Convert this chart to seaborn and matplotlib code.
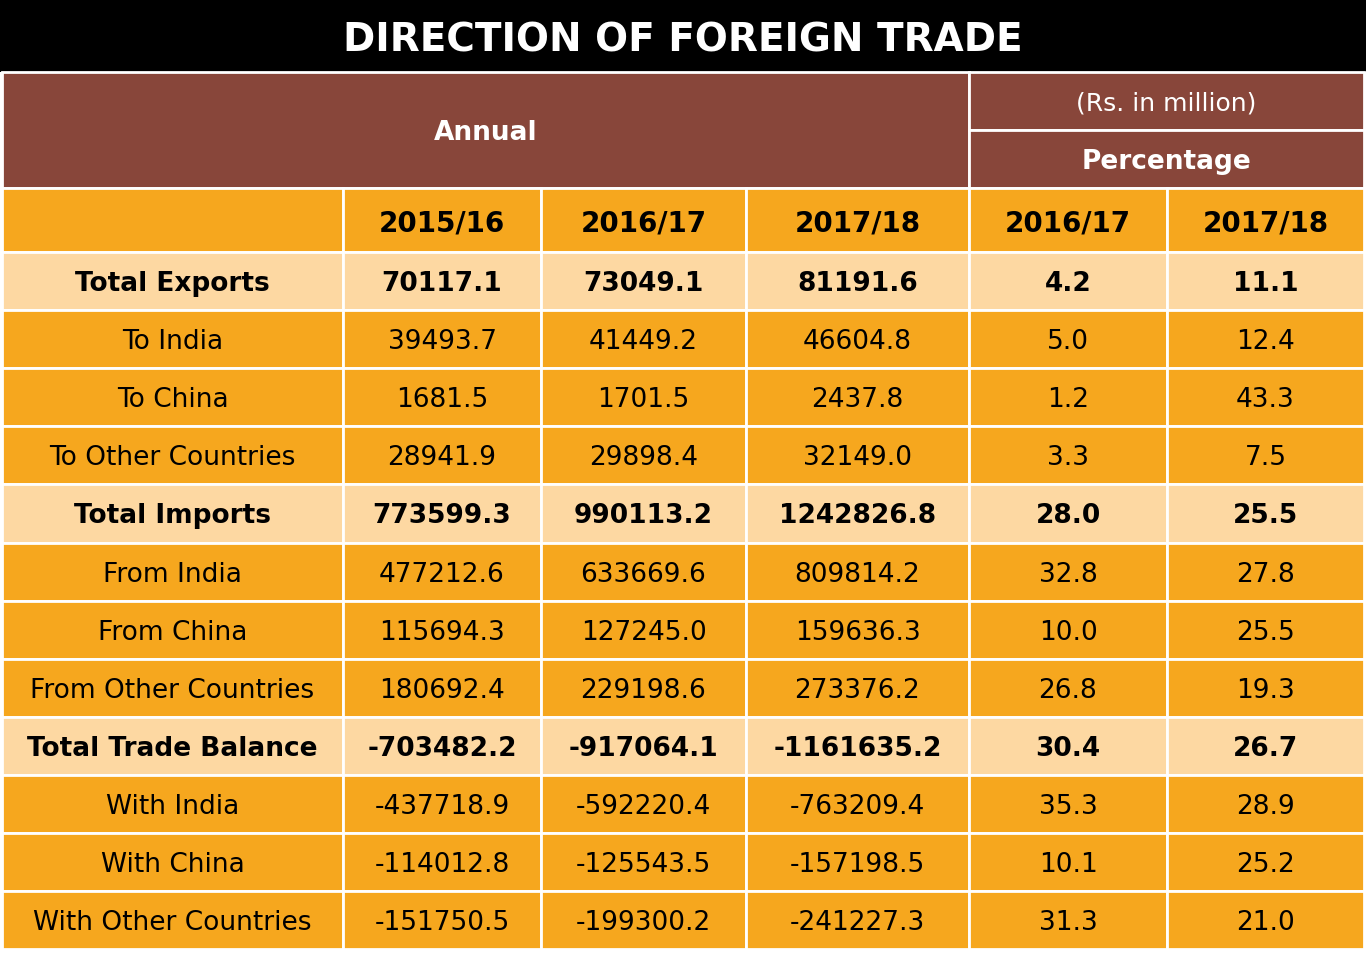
import matplotlib
matplotlib.use("Agg")
import matplotlib.pyplot as plt
from matplotlib.patches import Rectangle
import seaborn as sns

sns.set_theme(style="white")

title = "DIRECTION OF FOREIGN TRADE"
years_annual = ["2015/16", "2016/17", "2017/18"]
years_pct = ["2016/17", "2017/18"]
row_labels = ["Total Exports", "To India", "To China", "To Other Countries",
              "Total Imports", "From India", "From China", "From Other Countries",
              "Total Trade Balance", "With India", "With China", "With Other Countries"]
v2015 = ["70117.1", "39493.7", "1681.5", "28941.9", "773599.3", "477212.6", "115694.3", "180692.4",
         "-703482.2", "-437718.9", "-114012.8", "-151750.5"]
v2016 = ["73049.1", "41449.2", "1701.5", "29898.4", "990113.2", "633669.6", "127245.0", "229198.6",
         "-917064.1", "-592220.4", "-125543.5", "-199300.2"]
v2017 = ["81191.6", "46604.8", "2437.8", "32149.0", "1242826.8", "809814.2", "159636.3", "273376.2",
         "-1161635.2", "-763209.4", "-157198.5", "-241227.3"]
p2016 = ["4.2", "5.0", "1.2", "3.3", "28.0", "32.8", "10.0", "26.8", "30.4", "35.3", "10.1", "31.3"]
p2017 = ["11.1", "12.4", "43.3", "7.5", "25.5", "27.8", "25.5", "19.3", "26.7", "28.9", "25.2", "21.0"]
bold_rows = [0, 4, 8]

ORANGE = "#F6A71E"
PEACH = "#FDD8A2"
BROWN = "#88463A"
FONT = ["DejaVu Sans"]

fig = plt.figure(figsize=(13.66, 9.54), dpi=100)
ax = fig.add_axes([0, 0, 1, 1])
ax.set_xlim(0, 1366)
ax.set_ylim(954, 0)
ax.axis("off")

xs = [2, 343, 541, 746, 969, 1167, 1364]
lw = 2

def cell(x0, y0, x1, y1, color, text="", bold=False, size=19, tcolor="black"):
    ax.add_patch(Rectangle((x0, y0), x1 - x0, y1 - y0, facecolor=color, edgecolor="white", lw=lw))
    if text:
        ax.text((x0 + x1) / 2, (y0 + y1) / 2 + 2, text, ha="center", va="center",
                fontsize=size, fontweight="bold" if bold else "normal",
                family=FONT, color=tcolor)

ax.add_patch(Rectangle((0, 0), 1366, 73, facecolor="black", edgecolor="none"))
ax.text(683, 40, title, ha="center", va="center", fontsize=28, fontweight="bold",
        family=FONT, color="white")
cell(xs[0], 73, xs[4], 189, BROWN, "Annual", True, 19, "white")
cell(xs[4], 73, xs[6], 131, BROWN, "(Rs. in million)", False, 18, "white")
cell(xs[4], 131, xs[6], 189, BROWN, "Percentage", True, 19, "white")
cell(xs[0], 189, xs[1], 253, ORANGE)
for i, y in enumerate(years_annual + years_pct):
    cell(xs[i + 1], 189, xs[i + 2], 253, ORANGE, y, True, 20)

top, rh = 253, 58.1
for r, lab in enumerate(row_labels):
    y0 = top + r * rh
    y1 = y0 + rh
    b = r in bold_rows
    col = PEACH if b else ORANGE
    vals = [lab, v2015[r], v2016[r], v2017[r], p2016[r], p2017[r]]
    for c, v in enumerate(vals):
        cell(xs[c], y0, xs[c + 1], y1, col, v, b, 19)

fig.savefig("out.png", dpi=100, facecolor="white")
